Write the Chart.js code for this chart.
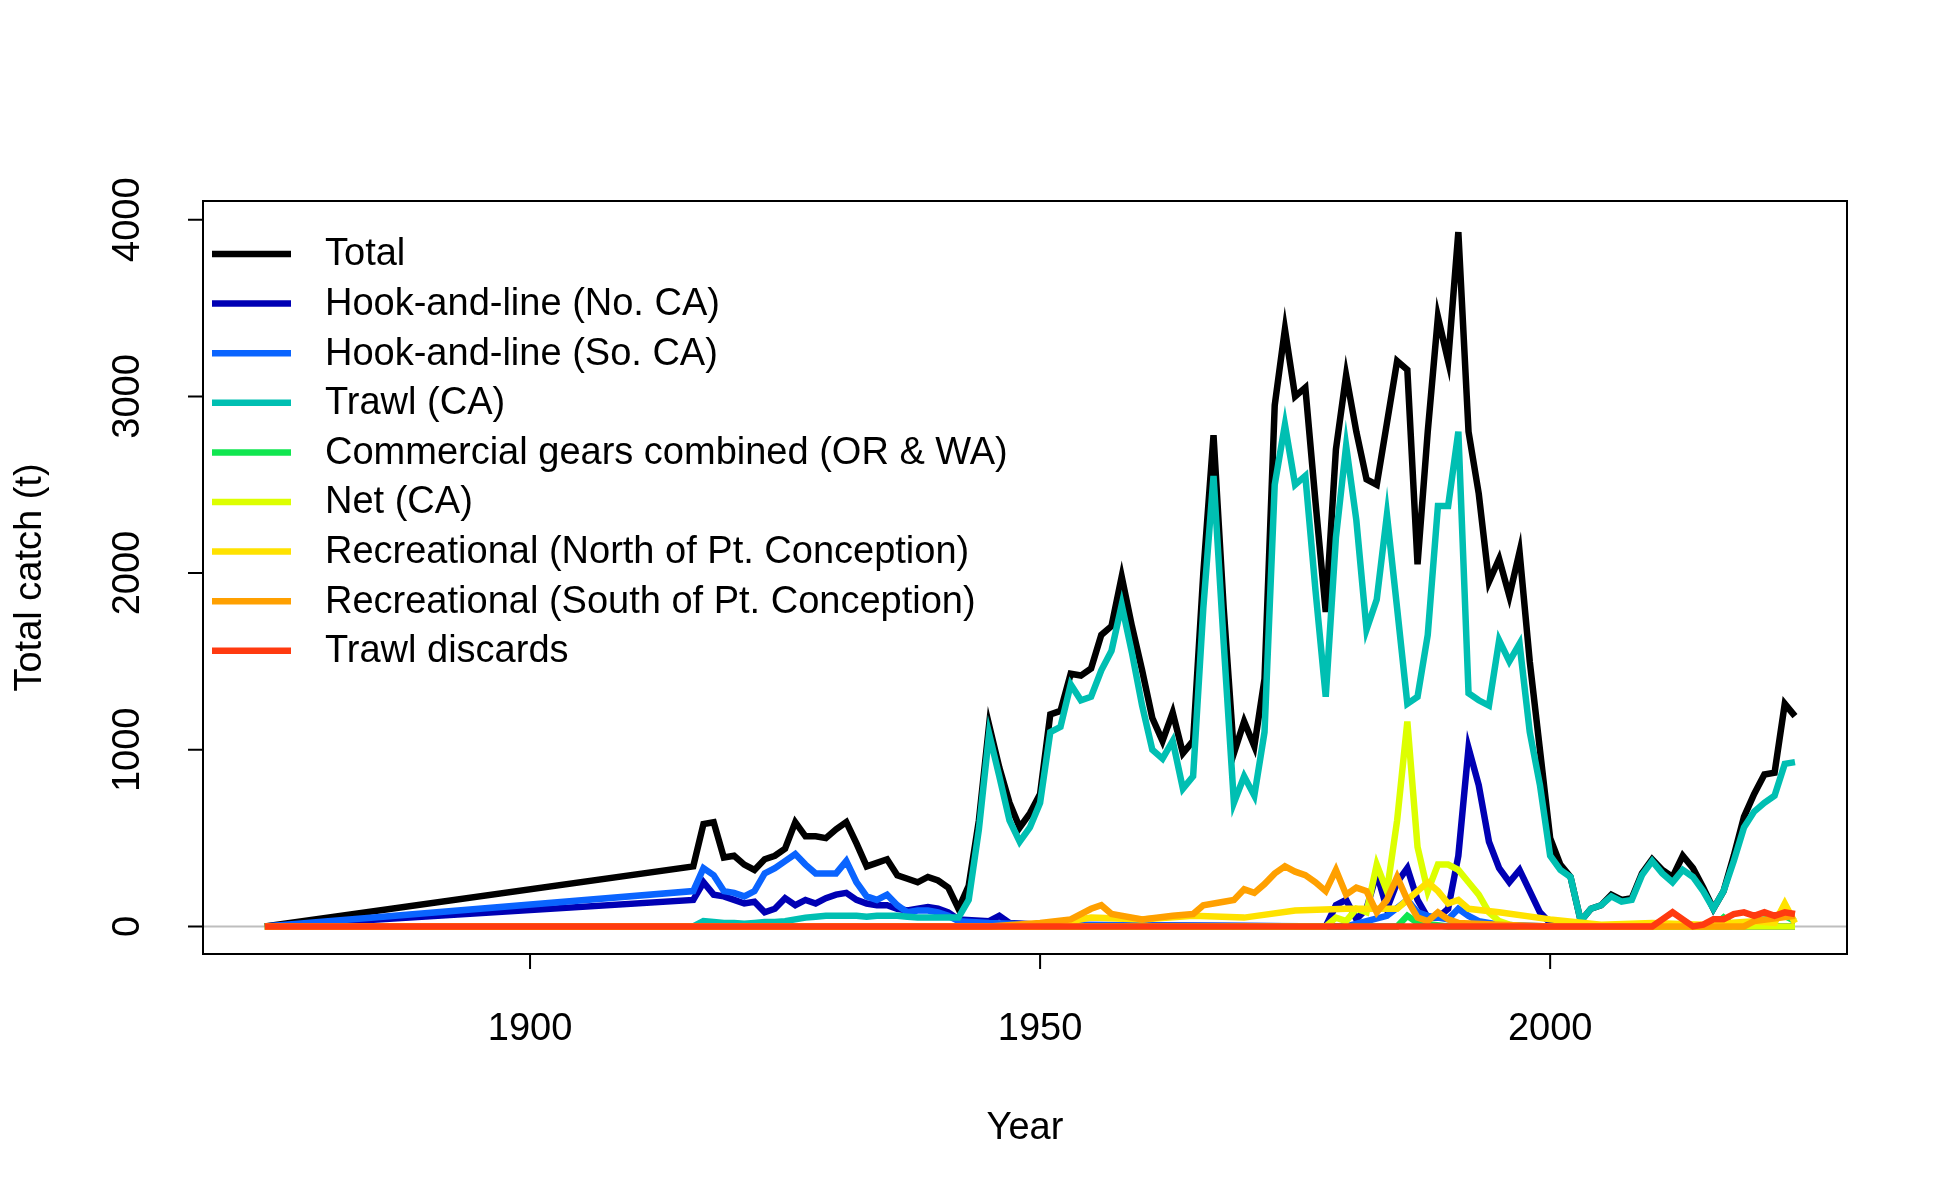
<!DOCTYPE html>
<html lang="en">
<head>
<meta charset="UTF-8">
<title>Total catch</title>
<script src="https://cdn.jsdelivr.net/npm/chart.js"></script>
<style>
  body, html { margin: 0; padding: 0; background: #fff; overflow: hidden; }
  #wrap { width: 1950px; height: 1200px; }
</style>
</head>
<body>
<div id="wrap"><canvas id="catchChart" width="1950" height="1200"></canvas></div>
<script>
// full yearly series start in 1916, with a single starting point before that
const startYear = 1874;
const yearsFull = [];
for (let y = 1916; y <= 2024; y++) yearsFull.push(y);

const total = [
  340, 580, 590, 390, 400, 350, 320, 380, 400, 440, 590, 510, 510, 500, 550, 590, 470, 340, 360, 380,
  290, 270, 250, 280, 260, 220, 100, 230, 600, 1140, 900, 700, 560, 640, 750, 1200, 1220, 1430, 1420, 1460,
  1650, 1700, 1980, 1700, 1450, 1180, 1050, 1210, 980, 1050, 2000, 2780, 1800, 980, 1160, 1020, 1400, 2950, 3380, 3000,
  3050, 2400, 1780, 2700, 3120, 2800, 2530, 2500, 2850, 3200, 3150, 2050, 2800, 3450, 3200, 3930, 2800, 2450, 1950, 2080,
  1870, 2120, 1500, 1000, 500, 350, 280, 30, 100, 120, 180, 150, 160, 300, 380, 320, 280, 400, 330, 220,
  100, 200, 400, 620, 750, 860, 870, 1260, 1190
];
const trawlCA = [
  0, 30, 25, 20, 20, 15, 20, 25, 25, 30, 40, 50, 55, 60, 60, 60, 60, 55, 60, 60,
  60, 55, 50, 50, 50, 50, 50, 150, 550, 1090, 850, 600, 480, 560, 700, 1100, 1130, 1370, 1280, 1300,
  1450, 1560, 1820, 1550, 1250, 1000, 950, 1050, 780, 850, 1800, 2550, 1600, 700, 850, 740, 1100, 2500, 2840, 2500,
  2550, 1900, 1300, 2200, 2720, 2300, 1680, 1850, 2330, 1800, 1260, 1300, 1650, 2380, 2380, 2800, 1320, 1280, 1250, 1620,
  1500, 1600, 1100, 800, 400, 320, 280, 30, 100, 120, 170, 140, 150, 290, 370, 300, 250, 320, 280, 200,
  100, 200, 370, 560, 650, 700, 740, 920, 930
];

const hookNoYears = [1874, 1916, 1917, 1918, 1919, 1920, 1921, 1922, 1923, 1924, 1925, 1926, 1927, 1928, 1929, 1930, 1931, 1932, 1933, 1934, 1935, 1936, 1937, 1938, 1939, 1940, 1941, 1942, 1945, 1946, 1947, 1950, 1978, 1979, 1980, 1981, 1982, 1983, 1984, 1985, 1986, 1987, 1988, 1989, 1990, 1991, 1992, 1993, 1994, 1995, 1996, 1997, 1998, 1999, 2000, 2001, 2024];
const hookNo = [0, 150, 250, 180, 170, 150, 130, 140, 80, 100, 160, 120, 150, 130, 160, 180, 190, 150, 130, 120, 120, 100, 90, 100, 110, 100, 80, 40, 30, 60, 20, 10, 0, 120, 150, 40, 100, 300, 100, 250, 330, 150, 50, 50, 100, 400, 1010, 800, 480, 330, 250, 320, 200, 80, 20, 0, 0];

const hookSoYears = [1874, 1916, 1917, 1918, 1919, 1920, 1921, 1922, 1923, 1924, 1925, 1926, 1927, 1928, 1929, 1930, 1931, 1932, 1933, 1934, 1935, 1936, 1937, 1938, 1939, 1940, 1941, 1942, 1945, 1950, 1980, 1984, 1986, 1987, 1988, 1989, 1990, 1991, 1992, 1993, 1995, 2000, 2024];
const hookSo = [0, 200, 330, 290, 200, 190, 170, 200, 300, 330, 370, 410, 350, 300, 300, 300, 370, 250, 170, 150, 180, 120, 80, 90, 90, 80, 60, 30, 20, 10, 0, 60, 150, 80, 60, 50, 40, 100, 60, 30, 10, 0, 0];

const orwaYears = [1874, 1985, 1986, 1987, 1990, 2016, 2017, 2018, 2021, 2023, 2024];
const orwa = [0, 0, 60, 20, 0, 0, 50, 0, 40, 60, 30];

const netYears = [1874, 1978, 1979, 1980, 1981, 1982, 1983, 1984, 1985, 1986, 1987, 1988, 1989, 1990, 1991, 1992, 1993, 1994, 1995, 1996, 1997, 2024];
const netCA = [0, 0, 50, 30, 100, 80, 350, 200, 600, 1160, 450, 200, 350, 350, 320, 250, 180, 80, 30, 10, 0, 0];

const recNYears = [1874, 1950, 1955, 1960, 1965, 1970, 1975, 1980, 1985, 1988, 1989, 1990, 1991, 1992, 1995, 2000, 2005, 2010, 2015, 2020, 2022, 2023, 2024];
const recN = [0, 0, 50, 40, 60, 50, 90, 100, 100, 250, 200, 130, 150, 100, 80, 40, 10, 20, 10, 30, 20, 130, 20];

const recSYears = [1874, 1945, 1950, 1953, 1955, 1956, 1957, 1960, 1963, 1965, 1966, 1968, 1969, 1970, 1971, 1972, 1973, 1974, 1975, 1976, 1977, 1978, 1979, 1980, 1981, 1982, 1983, 1984, 1985, 1986, 1987, 1988, 1989, 1990, 1991, 1995, 2000, 2019, 2020, 2024];
const recS = [0, 0, 20, 40, 100, 120, 70, 40, 60, 70, 120, 140, 150, 210, 190, 240, 300, 340, 310, 290, 250, 200, 320, 180, 220, 200, 80, 150, 280, 150, 50, 30, 80, 40, 20, 10, 0, 0, 30, 60];

const discardYears = [1874, 2010, 2011, 2012, 2013, 2014, 2015, 2016, 2017, 2018, 2019, 2020, 2021, 2022, 2023, 2024];
const discards = [0, 0, 40, 80, 40, 0, 10, 40, 40, 70, 80, 60, 80, 60, 80, 70];

const seriesNames = ['Total', 'Hook-and-line (No. CA)', 'Hook-and-line (So. CA)', 'Trawl (CA)',
  'Commercial gears combined (OR & WA)', 'Net (CA)', 'Recreational (North of Pt. Conception)',
  'Recreational (South of Pt. Conception)', 'Trawl discards'];
const seriesColors = ['#000000', '#0000B4', '#0A64FF', '#00BFB2', '#10E650', '#DDFF00', '#FFE200', '#FFA000', '#FF3A10'];
const xTicks = [1900, 1950, 2000];
const yTicks = [0, 1000, 2000, 3000, 4000];

function pts(xs, ys) { return xs.map((x, i) => ({ x: x, y: ys[i] })); }
function fullPts(vals) { return [{ x: startYear, y: 0 }].concat(pts(yearsFull, vals)); }

const seriesData = [
  fullPts(total), pts(hookNoYears, hookNo), pts(hookSoYears, hookSo), fullPts(trawlCA),
  pts(orwaYears, orwa), pts(netYears, netCA), pts(recNYears, recN), pts(recSYears, recS), pts(discardYears, discards)
];

const FONT = '38px "Liberation Sans", Arial, sans-serif';

const rDecor = {
  id: 'rDecor',
  beforeDatasetsDraw(chart) {
    const { ctx, chartArea: a, scales: { y } } = chart;
    ctx.save();
    ctx.strokeStyle = '#bebebe';
    ctx.lineWidth = 2;
    ctx.beginPath();
    ctx.moveTo(a.left, y.getPixelForValue(0));
    ctx.lineTo(a.right, y.getPixelForValue(0));
    ctx.stroke();
    ctx.restore();
  },
  afterDraw(chart) {
    const { ctx, chartArea: a, scales: { x, y } } = chart;
    ctx.save();
    ctx.strokeStyle = '#000';
    ctx.lineWidth = 2;
    ctx.strokeRect(a.left, a.top, a.right - a.left, a.bottom - a.top);

    ctx.beginPath();
    ctx.moveTo(x.getPixelForValue(xTicks[0]), a.bottom);
    ctx.lineTo(x.getPixelForValue(xTicks[xTicks.length - 1]), a.bottom);
    xTicks.forEach(t => {
      const px = x.getPixelForValue(t);
      ctx.moveTo(px, a.bottom);
      ctx.lineTo(px, a.bottom + 15);
    });
    ctx.moveTo(a.left, y.getPixelForValue(yTicks[0]));
    ctx.lineTo(a.left, y.getPixelForValue(yTicks[yTicks.length - 1]));
    yTicks.forEach(t => {
      const py = y.getPixelForValue(t);
      ctx.moveTo(a.left, py);
      ctx.lineTo(a.left - 15, py);
    });
    ctx.stroke();

    ctx.fillStyle = '#000';
    ctx.font = FONT;
    ctx.textAlign = 'center';
    ctx.textBaseline = 'middle';
    xTicks.forEach(t => ctx.fillText(String(t), x.getPixelForValue(t), a.bottom + 76));
    yTicks.forEach(t => {
      ctx.save();
      ctx.translate(a.left - 74, y.getPixelForValue(t));
      ctx.rotate(-Math.PI / 2);
      ctx.fillText(String(t), 0, 0);
      ctx.restore();
    });
    ctx.fillText('Year', (a.left + a.right) / 2, 1129);
    ctx.save();
    ctx.translate(31, (a.top + a.bottom) / 2);
    ctx.rotate(-Math.PI / 2);
    ctx.fillText('Total catch (t)', 0, 0);
    ctx.restore();

    ctx.textAlign = 'left';
    ctx.lineWidth = 6.5;
    seriesNames.forEach((name, i) => {
      const ly = 254 + i * 49.6;
      ctx.strokeStyle = seriesColors[i];
      ctx.beginPath();
      ctx.moveTo(212, ly);
      ctx.lineTo(291, ly);
      ctx.stroke();
      ctx.fillText(name, 325, ly + 1);
    });
    ctx.restore();
  }
};

new Chart(document.getElementById('catchChart').getContext('2d'), {
  type: 'line',
  data: {
    datasets: seriesNames.map((name, i) => ({
      label: name,
      data: seriesData[i],
      borderColor: seriesColors[i],
      backgroundColor: seriesColors[i],
      borderWidth: 6.5,
      pointRadius: 0,
      tension: 0,
      fill: false,
      order: seriesNames.length - i
    }))
  },
  options: {
    responsive: false,
    animation: false,
    layout: { padding: { left: 203, top: 201, right: 103, bottom: 246 } },
    scales: {
      x: { type: 'linear', min: 1867.94, max: 2029.1, display: false },
      y: { min: -156, max: 4106, display: false }
    },
    plugins: { legend: { display: false }, tooltip: { enabled: false } }
  },
  plugins: [rDecor]
});
</script>
</body>
</html>
